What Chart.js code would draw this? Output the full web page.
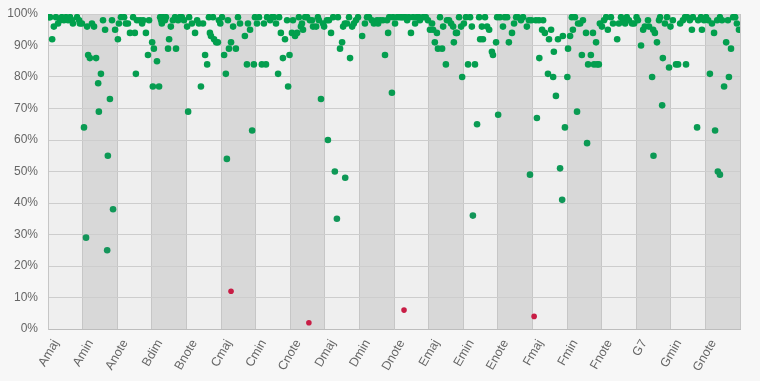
<!DOCTYPE html>
<html>
<head>
<meta charset="utf-8">
<script src="https://cdn.jsdelivr.net/npm/chart.js@4.4.1/dist/chart.umd.min.js"></script>
<style>
  html, body { margin: 0; padding: 0; background: #f7f7f7; }
  #wrap { width: 760px; height: 381px; }
</style>
</head>
<body>
<div id="wrap"><canvas id="myChart" width="760" height="381"></canvas></div>
<script>
// chord categories, one band each
const categories = ['Amaj', 'Amin', 'Anote', 'Bdim', 'Bnote', 'Cmaj', 'Cmin', 'Cnote', 'Dmaj', 'Dmin',
  'Dnote', 'Emaj', 'Emin', 'Enote', 'Fmaj', 'Fmin', 'Fnote', 'G7', 'Gmin', 'Gnote'];

const yTicks = [0, 10, 20, 30, 40, 50, 60, 70, 80, 90, 100];

// [jitter inside band, accuracy %]
const amaj = [[.03, 99], [.06, 99], [.12, 92], [.17, 96], [.23, 99], [.29, 97], [.35, 98], [.4, 99], [.46, 98],
  [.52, 99], [.58, 98], [.64, 99], [.69, 98], [.72, 97], [.84, 99], [.9, 98], [.92, 97], [.98, 97]];
const amin = [[.04, 64], [.1, 29], [.13, 96], [.16, 87], [.21, 86], [.27, 97], [.33, 96], [.39, 86], [.45, 78],
  [.47, 69], [.53, 81], [.59, 98], [.65, 95], [.71, 25], [.73, 55], [.79, 73], [.85, 98], [.88, 38], [.94, 95]];
const anote = [[.02, 92], [.05, 97], [.11, 99], [.2, 99], [.25, 97], [.31, 97], [.37, 94], [.46, 99], [.51, 94],
  [.54, 81], [.57, 98], [.66, 98], [.72, 97], [.75, 98], [.83, 94], [.89, 87], [.92, 98]];
const bdim = [[.01, 91], [.03, 77], [.06, 89], [.15, 85], [.21, 77], [.24, 99], [.27, 98], [.29, 97], [.32, 99],
  [.38, 98], [.41, 99], [.47, 89], [.5, 92], [.55, 96], [.61, 98], [.67, 99], [.7, 89], [.76, 98], [.81, 99],
  [.87, 99], [.93, 98]];
const bnote = [[.02, 96], [.05, 69], [.08, 99], [.16, 97], [.25, 94], [.31, 98], [.36, 97], [.42, 77], [.48, 97],
  [.54, 87], [.6, 84], [.65, 99], [.68, 94], [.71, 93], [.77, 99], [.8, 92], [.86, 91], [.91, 91], [.94, 98], [.98, 97]];
const cmaj = [[.03, 99], [.09, 87], [.14, 81], [.17, 54], [.2, 98], [.23, 89], [.29, 91], [.29, 12], [.35, 96],
  [.43, 89], [.49, 99], [.55, 97], [.69, 93], [.75, 84], [.78, 97], [.84, 95], [.9, 63], [.95, 84], [.98, 99]];
const cmin = [[.04, 97], [.1, 99], [.18, 84], [.24, 97], [.3, 84], [.33, 99], [.42, 98], [.47, 99], [.53, 99],
  [.59, 97], [.65, 81], [.68, 99], [.73, 94], [.79, 86], [.85, 92], [.91, 98], [.94, 77], [.98, 87]];
const cnote = [[.05, 94], [.08, 98], [.14, 93], [.2, 94], [.25, 99], [.31, 96], [.34, 97], [.37, 95], [.43, 99],
  [.49, 99], [.54, 2], [.57, 98], [.63, 98], [.66, 96], [.75, 96], [.8, 99], [.83, 98], [.89, 73], [.95, 97], [.98, 96]];
const dmaj = [[.06, 98], [.09, 60], [.12, 98], [.18, 94], [.24, 99], [.29, 50], [.35, 35], [.38, 99], [.44, 89],
  [.5, 91], [.53, 96], [.58, 97], [.59, 48], [.64, 97], [.7, 99], [.73, 86], [.79, 96], [.84, 97], [.9, 98], [.96, 99]];
const dmin = [[.08, 93], [.16, 97], [.22, 99], [.28, 99], [.36, 98], [.42, 97], [.51, 98], [.54, 97], [.6, 98],
  [.68, 98], [.74, 87], [.8, 98], [.83, 94], [.86, 99], [.94, 75], [.97, 99]];
const dnote = [[.03, 97], [.09, 99], [.17, 99], [.22, 99], [.26, 99], [.29, 6], [.33, 99], [.38, 98], [.43, 99],
  [.49, 94], [.55, 99], [.61, 97], [.66, 99], [.72, 99], [.75, 98], [.84, 99], [.92, 99], [.98, 98]];
const emaj = [[.04, 95], [.1, 97], [.13, 95], [.18, 91], [.24, 94], [.27, 89], [.33, 99], [.39, 89], [.42, 96],
  [.5, 84], [.53, 98], [.59, 98], [.65, 97], [.71, 96], [.73, 91], [.79, 94], [.82, 94], [.88, 99], [.94, 96], [.97, 80]];
const emin = [[.02, 97], [.08, 99], [.14, 84], [.2, 99], [.25, 96], [.28, 36], [.34, 84], [.4, 65], [.46, 99],
  [.49, 92], [.54, 96], [.57, 92], [.63, 99], [.69, 96], [.75, 95], [.83, 88], [.86, 87], [.95, 91], [.98, 99]];
const enote = [[.01, 68], [.06, 99], [.15, 96], [.2, 99], [.27, 99], [.32, 91], [.41, 94], [.47, 97], [.53, 99],
  [.58, 99], [.67, 98], [.73, 99], [.84, 96], [.9, 98], [.93, 49], [.97, 98]];
const fmaj = [[.05, 4], [.1, 98], [.13, 67], [.19, 98], [.2, 86], [.28, 95], [.31, 98], [.36, 94], [.45, 81],
  [.48, 92], [.54, 95], [.6, 80], [.62, 88], [.68, 74], [.74, 92], [.8, 51], [.86, 41], [.88, 93], [.94, 64]];
const fmin = [[.01, 80], [.03, 89], [.09, 93], [.14, 99], [.17, 95], [.23, 99], [.29, 69], [.32, 97], [.38, 97],
  [.43, 87], [.46, 98], [.55, 94], [.58, 59], [.61, 84], [.69, 87], [.75, 94], [.78, 84], [.84, 91], [.87, 84],
  [.92, 84], [.95, 97]];
const fnote = [[.01, 96], [.07, 98], [.13, 99], [.18, 95], [.27, 99], [.33, 97], [.45, 92], [.5, 97], [.56, 99],
  [.62, 98], [.68, 97], [.73, 99], [.79, 98], [.88, 97], [.94, 97]];
const g7 = [[.01, 99], [.05, 98], [.14, 90], [.2, 95], [.25, 96], [.34, 98], [.37, 96], [.46, 80], [.49, 95],
  [.5, 55], [.54, 94], [.6, 91], [.66, 98], [.69, 99], [.75, 71], [.77, 86], [.83, 97], [.89, 99], [.95, 83], [.99, 96]];
const gmin = [[.06, 98], [.15, 84], [.21, 84], [.27, 97], [.35, 98], [.41, 99], [.44, 84], [.47, 99], [.55, 98],
  [.61, 95], [.64, 99], [.76, 64], [.79, 98], [.87, 99], [.9, 95], [.96, 98]];
const gnote = [[.02, 99], [.08, 98], [.13, 81], [.19, 97], [.25, 94], [.28, 63], [.34, 98], [.36, 50], [.42, 49],
  [.42, 99], [.48, 98], [.54, 77], [.6, 91], [.65, 98], [.68, 80], [.74, 89], [.8, 99], [.86, 99], [.91, 97], [.97, 95]];

const groups = [amaj, amin, anote, bdim, bnote, cmaj, cmin, cnote, dmaj, dmin,
  dnote, emaj, emin, enote, fmaj, fmin, fnote, g7, gmin, gnote];

const points = [];
groups.forEach((group, i) => {
  group.forEach(p => points.push({ x: i + p[0], y: p[1] }));
});

const pointColor = v => {
  if (v < 20) return '#c81d45';
  // slightly lighter/teal for lower scores
  const t = (100 - v) / 80;
  const r = Math.round(0 + 22 * t);
  const g = Math.round(160 - 12 * t);
  const b = Math.round(76 + 16 * t);
  return `rgb(${r},${g},${b})`;
};

// alternate grey bands behind the points
const bandsPlugin = {
  id: 'bands',
  beforeDraw(chart) {
    const { ctx, chartArea, scales } = chart;
    ctx.save();
    categories.forEach((c, i) => {
      const x0 = scales.x.getPixelForValue(i);
      const x1 = scales.x.getPixelForValue(i + 1);
      ctx.fillStyle = i % 2 ? '#d8d8d8' : '#efefef';
      ctx.fillRect(x0, chartArea.top, x1 - x0, chartArea.bottom - chartArea.top);
    });
    ctx.restore();
  },
};

const ctx = document.getElementById('myChart');
const myChart = new Chart(ctx, {
  type: 'scatter',
  data: {
    datasets: [
      {
        data: points,
        pointRadius: c => (c.raw && c.raw.y < 20 ? 2.8 : 3.3),
        pointHoverRadius: 4,
        pointBorderWidth: 0,
        pointBackgroundColor: c => pointColor(c.raw ? c.raw.y : 100),
        pointBorderColor: c => pointColor(c.raw ? c.raw.y : 100),
      },
    ],
  },
  options: {
    responsive: false,
    animation: false,
    layout: { padding: { top: 14, right: 20, left: 0, bottom: 0 } },
    plugins: {
      legend: { display: false },
      tooltip: { enabled: false },
    },
    scales: {
      x: {
        type: 'linear',
        min: 0,
        max: categories.length,
        afterBuildTicks: axis => {
          axis.ticks = categories.map((c, i) => ({ value: i })).concat([{ value: categories.length }]);
        },
        afterFit: axis => {
          axis.height = 52;
          axis.paddingLeft = 0;
          axis.paddingRight = 0;
        },
        ticks: {
          autoSkip: false,
          maxRotation: 60,
          minRotation: 60,
          padding: 8,
          labelOffset: 8,
          color: '#666',
          font: { family: 'Liberation Sans', size: 12.5 },
          callback: v => categories[v] || '',
        },
        grid: { color: '#c6c6c6', drawTicks: false },
        border: { color: '#bdbdbd' },
      },
      y: {
        min: 0,
        max: 100,
        afterBuildTicks: axis => {
          axis.ticks = yTicks.map(v => ({ value: v }));
        },
        afterFit: axis => {
          axis.width = 48;
          axis.paddingTop = 0;
          axis.paddingBottom = 0;
        },
        ticks: {
          padding: 10,
          color: '#666',
          font: { family: 'Liberation Sans', size: 12 },
          callback: v => v + '%',
        },
        grid: { color: '#cdcdcd', drawTicks: false },
        border: { color: '#c6c6c6' },
      },
    },
  },
  plugins: [bandsPlugin],
});
</script>
</body>
</html>
